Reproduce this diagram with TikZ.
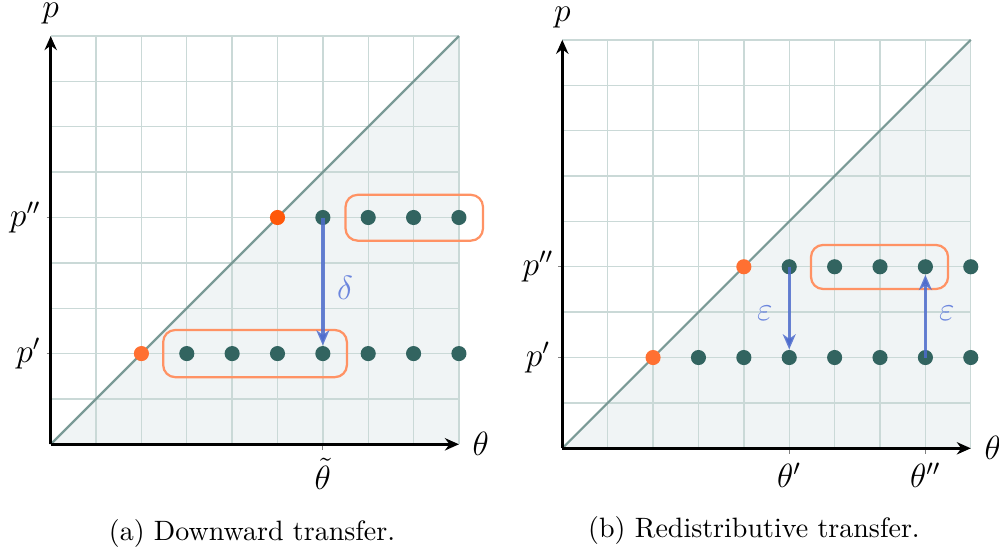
\documentclass[tikz,border=0pt]{standalone}
\usetikzlibrary{arrows.meta}
\definecolor{gridc}{RGB}{202,217,215}
\definecolor{fillc}{RGB}{240,244,245}
\definecolor{diagc}{RGB}{122,154,150}
\definecolor{tealc}{RGB}{50,100,96}
\definecolor{orangeA}{RGB}{255,88,10}
\definecolor{orangeB}{RGB}{255,112,50}
\definecolor{boxc}{RGB}{255,146,100}
\definecolor{arrowc}{RGB}{78,108,205}
\definecolor{labc}{RGB}{108,134,222}
\tikzset{
  gridline/.style={draw=gridc, line width=0.5pt, step=1},
  diagline/.style={draw=diagc, line width=0.8pt},
  axisline/.style={line width=0.9pt, -{Stealth[length=5pt,width=4.4pt,inset=1.6pt]}},
  tickmark/.style={draw=gray, line width=0.4pt},
  tdot/.style={circle, fill=tealc, inner sep=0pt, minimum size=5.4pt},
  odotA/.style={circle, fill=orangeA, inner sep=0pt, minimum size=5.4pt},
  odotB/.style={circle, fill=orangeB, inner sep=0pt, minimum size=5.4pt},
  grp/.style={draw=boxc, line width=0.8pt, rounded corners=4.3pt},
  transfer/.style={draw=arrowc, line width=1.2pt, draw opacity=0.85, -{Stealth[length=5.4pt,width=4.6pt,inset=1.6pt]}},
  lab/.style={font=\large, inner sep=3.33pt},
  toplab/.style={font=\large, inner sep=1pt, anchor=south, yshift=3.1pt},
  bluelab/.style={font=\large, text=labc},
  capt/.style={font=\normalsize, anchor=base},
}
\begin{document}
\begin{tikzpicture}[x=0.357143pt, y=-0.357143pt]
\useasboundingbox (0,0) rectangle (999,552);

% ---------------- left panel ----------------
\begin{scope}[shift={(50.7,444.3)}, x=16.2pt, y=16.2pt]
  \fill[fillc] (0,0) -- (9,0) -- (9,9) -- cycle;
  \draw[gridline] (0,0) grid (9,9);
  \draw[diagline] (0,0) -- (9,9);
  \draw[tickmark] (-1.5pt,2) -- (0,2);
  \draw[tickmark] (-1.5pt,5) -- (0,5);
  \draw[tickmark] (6,-2pt) -- (6,0);
  \coordinate (LO) at (0,0);
  \coordinate (LX) at (9,0);
  \coordinate (LY) at (0,9);
  \draw[axisline] (LO) -- (LX);
  \draw[axisline] (LO) -- (LY);
  \node[lab, anchor=west, xshift=1.4pt] (Ltheta) at (LX) {$\theta$};
  \node[toplab] (Lp) at (LY) {$p$};
  \node[lab, anchor=east] (Lpp) at (0,5) {$p''$};
  \node[lab, anchor=east] (Lp1) at (0,2) {$p'$};
  \node[lab, anchor=north, yshift=-1.6pt] (Lth) at (6,0) {$\tilde\theta$};
  \draw[grp] (2.48,1.48) rectangle (6.53,2.52);
  \draw[grp] (6.5,4.49) rectangle (9.53,5.5);
  \node[odotB] (L22) at (2,2) {};
  \foreach \i in {3,...,9} { \node[tdot] (L\i2) at (\i,2) {}; }
  \node[odotA] (L55) at (5,5) {};
  \foreach \i in {6,...,9} { \node[tdot] (L\i5) at (\i,5) {}; }
  \draw[transfer] (L65.center) -- (L62);
  \node[bluelab] (Ldelta) at (6.49,3.45) {$\delta$};
\end{scope}

% ---------------- right panel ----------------
\begin{scope}[shift={(562.3,448.3)}, x=16.21pt, y=16.21pt]
  \fill[fillc] (0,0) -- (9,0) -- (9,9) -- cycle;
  \draw[gridline] (0,0) grid (9,9);
  \draw[diagline] (0,0) -- (9,9);
  \draw[tickmark] (-1.5pt,2) -- (0,2);
  \draw[tickmark] (-1.5pt,4) -- (0,4);
  \draw[tickmark] (5,-2pt) -- (5,0);
  \draw[tickmark] (8,-2pt) -- (8,0);
  \coordinate (RO) at (0,0);
  \coordinate (RX) at (9,0);
  \coordinate (RY) at (0,9);
  \draw[axisline] (RO) -- (RX);
  \draw[axisline] (RO) -- (RY);
  \node[lab, anchor=west, xshift=1.4pt] (Rtheta) at (RX) {$\theta$};
  \node[toplab] (Rp) at (RY) {$p$};
  \node[lab] (Rpp) at (-0.535,4) {$p''$};
  \node[lab] (Rp1) at (-0.535,2) {$p'$};
  \node[lab, anchor=north, yshift=-1.6pt] (Rth1) at (5,0) {$\theta'$};
  \node[lab, anchor=north, yshift=-1.6pt] (Rth2) at (8,0) {$\theta''$};
  \draw[grp] (5.48,3.51) rectangle (8.5,4.48);
  \node[odotB] (R22) at (2,2) {};
  \foreach \i in {3,...,9} { \node[tdot] (R\i2) at (\i,2) {}; }
  \node[odotB] (R44) at (4,4) {};
  \foreach \i in {5,...,9} { \node[tdot] (R\i4) at (\i,4) {}; }
  \draw[transfer] (R54.center) -- (R52);
  \draw[transfer] (R82.center) -- (R84);
  \node[bluelab] (Reps1) at (4.46,2.98) {$\varepsilon$};
  \node[bluelab] (Reps2) at (8.47,2.98) {$\varepsilon$};
\end{scope}

\node[capt] (capA) at (252,540.7) {(a) Downward transfer.};
\node[capt] (capB) at (754,537) {(b) Redistributive transfer.};
\end{tikzpicture}
\end{document}
